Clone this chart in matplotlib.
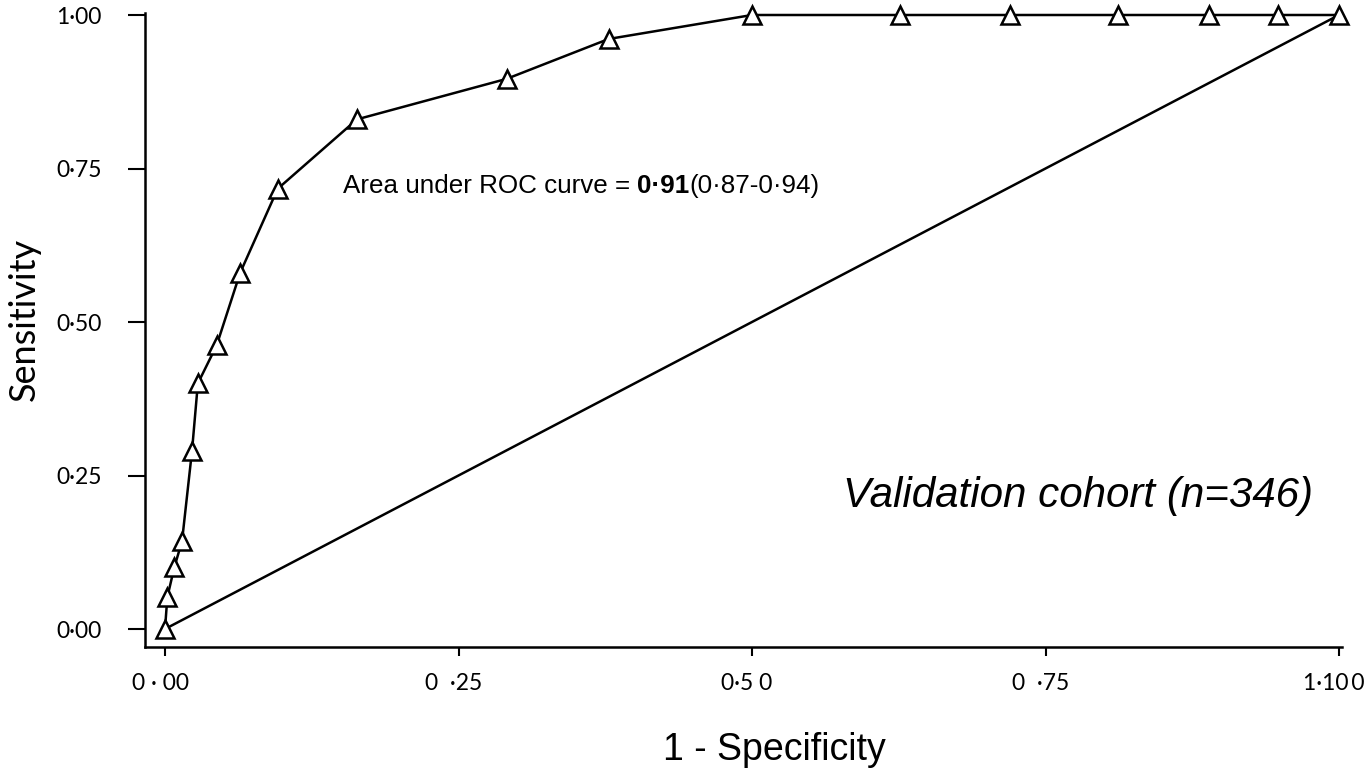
import matplotlib
matplotlib.use("Agg")
import matplotlib.pyplot as plt
import matplotlib.transforms as mtransforms

fpr = [0.0, 0.002, 0.008, 0.0145, 0.023, 0.028, 0.044, 0.064, 0.096, 0.1635,
       0.291, 0.378, 0.5, 0.626, 0.72, 0.812, 0.889, 0.948, 1.0]
tpr = [0.0, 0.052, 0.101, 0.143, 0.29, 0.40, 0.462, 0.58, 0.717, 0.83,
       0.896, 0.961, 1.0, 1.0, 1.0, 1.0, 1.0, 1.0, 1.0]
ref_x = [0.0, 1.0]
ref_y = [0.0, 1.0]

xticks = [0.0, 0.25, 0.5, 0.75, 1.0]
xticklabels = ["0 · 00", "0  ·25", "0·5 0", "0  ·75", "1·10\u20090"]
yticks = [0.0, 0.25, 0.5, 0.75, 1.0]
yticklabels = ["0·00", "0·25", "0·50", "0·75", "1·00"]

fig = plt.figure(figsize=(13.67, 7.73), dpi=100)
ax = fig.add_axes([145/1367, 1-647/773, (1342-145)/1367, (647-13)/773])

ax.plot(ref_x, ref_y, color="black", lw=1.8, clip_on=False)
ax.plot(fpr, tpr, color="black", lw=1.8, marker="^", markersize=13,
        markerfacecolor="white", markeredgecolor="black", markeredgewidth=1.8,
        clip_on=False, zorder=3)

ax.set_xlim(-20/1174, 1 + 3/1174)
ax.set_ylim(-18/614, 1 + 2/614)

for s in ["top", "right"]:
    ax.spines[s].set_visible(False)
for s in ["left", "bottom"]:
    ax.spines[s].set_linewidth(1.8)

ax.set_xticks(xticks)
ax.set_xticklabels(xticklabels, fontfamily=["Lato", "DejaVu Sans"], fontsize=16.5)
ax.set_yticks(yticks)
ax.set_yticklabels(yticklabels, fontfamily="Lato", fontsize=16.5)
ax.tick_params(axis="y", length=12, width=1.5, pad=19)
ax.tick_params(axis="x", length=6.5, width=1.5, pad=12)

shift = mtransforms.ScaledTranslation(-5/100, 0, fig.dpi_scale_trans)
for lab in ax.get_xticklabels():
    lab.set_transform(lab.get_transform() + shift)

ax.set_ylabel("Sensitivity", fontfamily="Lato", fontsize=26)
ax.yaxis.set_label_coords(-0.087, 0.516)
ax.set_xlabel("1 - Specificity", fontfamily="Liberation Sans", fontsize=27)
ax.xaxis.set_label_coords(0.526, -0.134)

fs = 18.7
base_y = 0.710
ax.text(0.1516, base_y, "Area under ROC curve = ", fontfamily="Liberation Sans",
        fontsize=fs, va="baseline", ha="left")
fig.canvas.draw()
inv = ax.transData.inverted()
bb = ax.texts[-1].get_window_extent()
x1 = inv.transform((bb.x1, bb.y0))[0]
ax.text(x1, base_y, "0·91", fontfamily="Liberation Sans", fontweight="bold",
        fontsize=fs, va="baseline", ha="left")
fig.canvas.draw()
bb2 = ax.texts[-1].get_window_extent()
x2 = inv.transform((bb2.x1, bb2.y0))[0]
ax.text(x2, base_y, "(0·87-0·94)", fontfamily="Liberation Sans",
        fontsize=fs, va="baseline", ha="left")

ax.text(0.5775, 0.199, "Validation cohort (n=346)", fontfamily="Liberation Sans",
        fontstyle="italic", fontsize=30.3, ha="left", va="baseline")

fig.savefig("out.png", dpi=100)
